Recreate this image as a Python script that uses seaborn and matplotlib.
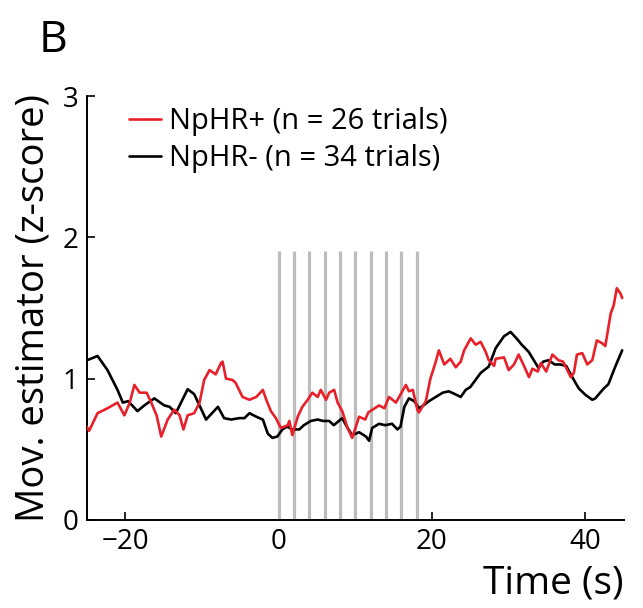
import numpy as np
import pandas as pd
import matplotlib
matplotlib.use('Agg')
import matplotlib.pyplot as plt
import seaborn as sns

# NpHR+ trace (red)
t_plus = [-25.0, -24.7, -23.6, -22.3, -21.0, -20.1, -19.4, -18.8, -18.1, -17.2,
          -16.6, -15.9, -15.3, -14.45, -13.6, -12.9, -12.4, -11.85, -11.0, -10.3,
          -9.7, -9.0, -8.2, -7.5, -7.3, -6.85, -6.0, -5.6, -4.7, -3.8,
          -2.9, -2.05, -1.6, -1.0, -0.35, 0.3, 1.2, 1.4, 1.8, 2.5,
          3.1, 3.8, 4.4, 5.1, 5.5, 6.2, 6.6, 7.25, 7.7, 8.3,
          9.0, 9.6, 10.5, 11.3, 11.7, 13.1, 13.8, 14.4, 15.3, 16.6,
          17.0, 17.5, 18.1, 18.3, 19.2, 19.8, 20.5, 20.9, 21.6, 22.4,
          23.1, 23.75, 24.2, 25.05, 25.7, 26.35, 27.0, 27.4, 28.1, 28.3,
          29.4, 30.0, 30.7, 31.3, 32.0, 32.65, 33.1, 33.8, 34.2, 34.9,
          35.7, 36.5, 37.1, 38.1, 38.5, 38.9, 39.6, 40.25, 40.9, 41.5,
          42.2, 42.6, 43.3, 43.7, 44.1, 44.6, 44.8]
z_plus = [0.66, 0.63, 0.755, 0.79, 0.83, 0.74, 0.83, 0.955, 0.90, 0.90,
          0.83, 0.74, 0.59, 0.71, 0.78, 0.74, 0.64, 0.74, 0.755, 0.83,
          0.99, 1.06, 1.03, 1.11, 1.12, 1.0, 0.99, 0.97, 0.87, 0.85,
          0.87, 0.92, 0.85, 0.77, 0.72, 0.65, 0.67, 0.70, 0.60, 0.73,
          0.80, 0.85, 0.90, 0.87, 0.92, 0.85, 0.90, 0.92, 0.83, 0.77,
          0.65, 0.58, 0.73, 0.71, 0.76, 0.81, 0.79, 0.87, 0.83, 0.955,
          0.91, 0.92, 0.78, 0.76, 0.84, 1.0, 1.12, 1.20, 1.10, 1.14,
          1.08, 1.12, 1.2, 1.285, 1.24, 1.26, 1.19, 1.13, 1.09, 1.14,
          1.15, 1.06, 1.10, 1.17, 1.09, 1.01, 1.07, 1.05, 1.11, 1.05,
          1.17, 1.13, 1.12, 1.01, 1.04, 1.17, 1.18, 1.10, 1.13, 1.27,
          1.25, 1.23, 1.46, 1.52, 1.64, 1.60, 1.57]

# NpHR- trace (black)
t_minus = [-25.0, -24.5, -23.6, -22.3, -21.0, -20.3, -19.6, -18.4, -17.5, -16.2,
           -14.9, -14.2, -13.4, -11.85, -11.0, -9.45, -7.9, -7.1, -6.2, -5.1,
           -4.45, -3.8, -2.9, -2.05, -1.4, -0.8, -0.15, 0.5, 1.1, 1.8,
           2.7, 3.3, 4.2, 5.1, 5.8, 6.6, 7.2, 8.3, 9.0, 9.6,
           10.5, 11.4, 11.8, 12.2, 13.1, 13.9, 14.8, 15.5, 15.9, 16.4,
           17.0, 17.7, 18.3, 18.9, 19.6, 20.5, 21.4, 22.2, 23.0, 23.75,
           24.4, 25.0, 26.35, 27.4, 28.3, 29.4, 30.25, 31.1, 31.7, 32.6,
           33.5, 33.9, 34.5, 35.2, 36.0, 36.7, 37.5, 38.5, 39.15, 40.0,
           40.9, 41.3, 42.4, 43.0, 43.9, 44.8]
z_minus = [1.13, 1.14, 1.16, 1.06, 0.92, 0.83, 0.84, 0.77, 0.81, 0.86,
           0.81, 0.80, 0.755, 0.925, 0.89, 0.71, 0.80, 0.72, 0.71, 0.72,
           0.72, 0.755, 0.73, 0.71, 0.61, 0.58, 0.59, 0.64, 0.66, 0.64,
           0.64, 0.67, 0.70, 0.71, 0.70, 0.70, 0.67, 0.72, 0.65, 0.60,
           0.62, 0.59, 0.56, 0.65, 0.68, 0.67, 0.68, 0.64, 0.66, 0.80,
           0.86, 0.84, 0.79, 0.81, 0.84, 0.87, 0.90, 0.91, 0.89, 0.87,
           0.92, 0.94, 1.04, 1.085, 1.215, 1.30, 1.33, 1.28, 1.24, 1.19,
           1.11, 1.075, 1.12, 1.13, 1.10, 1.10, 1.09, 0.99, 0.93, 0.885,
           0.85, 0.86, 0.93, 0.96, 1.085, 1.20]

# light pulses (s) and the height of the markers
stim_times = [0, 2, 4, 6, 8, 10, 12, 14, 16, 18]
stim_top = 1.9

sns.set_style('ticks', {'text.color': 'black', 'axes.labelcolor': 'black',
                        'xtick.color': 'black', 'ytick.color': 'black',
                        'axes.edgecolor': 'black'})
plt.rcParams['font.family'] = ['Open Sans', 'DejaVu Sans']

fig = plt.figure(figsize=(6.43, 6.08), dpi=100)
ax = fig.add_axes([0.135, 0.145, 0.835, 0.697])

ax.vlines(stim_times, 0, stim_top, color='#bdbdbd', lw=2.3, zorder=1)
sns.lineplot(x=t_plus, y=z_plus, color='#e8202a', lw=1.9, ax=ax,
             label='NpHR+ (n = 26 trials)', zorder=3)
sns.lineplot(x=t_minus, y=z_minus, color='black', lw=1.9, ax=ax,
             label='NpHR- (n = 34 trials)', zorder=2)

ax.set_xlim(-25, 45)
ax.set_ylim(0, 3)
ax.set_xticks([-20, 0, 20, 40])
ax.set_xticklabels(['\u221220', '0', '20', '40'])
ax.set_yticks([0, 1, 2, 3])
ax.tick_params(direction='in', length=6, width=1.2, labelsize=20, pad=6,
               colors='black')
sns.despine(ax=ax)
for s in ['left', 'bottom']:
    ax.spines[s].set_linewidth(1.4)

ax.set_ylabel('Mov. estimator (z-score)', fontsize=27.5, labelpad=7)
ax.set_xlabel('Time (s)', fontsize=28, loc='right', labelpad=6)

leg = ax.legend(loc='upper left', bbox_to_anchor=(0.03, 1.035), frameon=False,
                fontsize=21, handlelength=1.1, handletextpad=0.25,
                labelspacing=0.25)

fig.text(0.06, 0.915, 'B', fontsize=32)

fig.savefig('out.png', dpi=100)
